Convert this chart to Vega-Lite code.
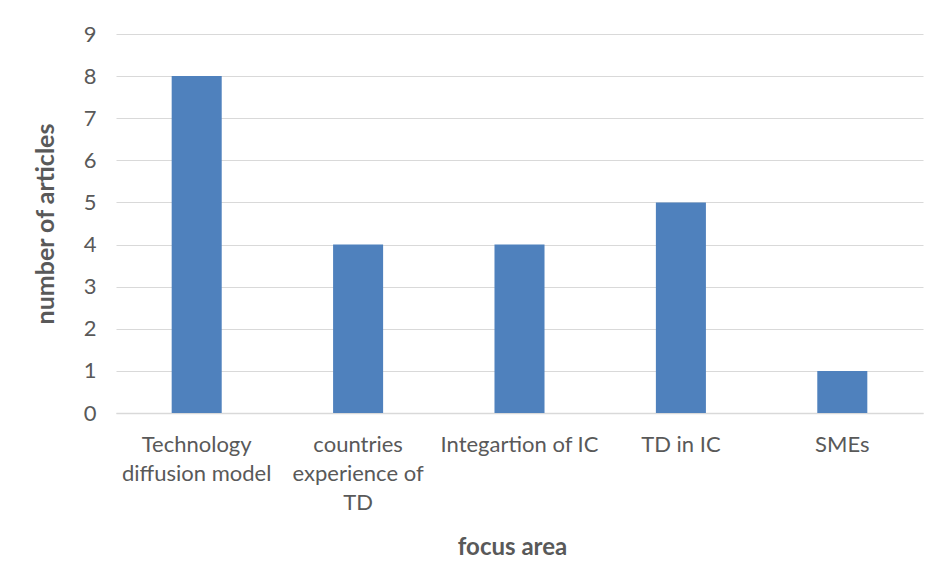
{
  "$schema": "https://vega.github.io/schema/vega-lite/v6.json",
  "width": 807,
  "height": 379,
  "autosize": {"type": "none"},
  "padding": {"left": 116, "top": 34, "right": 16, "bottom": 175},
  "background": "white",
  "config": {
    "font": "Lato",
    "view": {"stroke": null}
  },
  "data": {
    "values": [
      {"focus": "Technology diffusion model", "articles": 8},
      {"focus": "countries experience of TD", "articles": 4},
      {"focus": "Integartion of IC", "articles": 4},
      {"focus": "TD in IC", "articles": 5},
      {"focus": "SMEs", "articles": 1}
    ]
  },
  "mark": {"type": "bar", "color": "#4F81BD"},
  "encoding": {
    "x": {
      "field": "focus",
      "type": "nominal",
      "sort": null,
      "scale": {"paddingInner": 0.69, "paddingOuter": 0.345},
      "axis": {
        "title": "focus area",
        "titleFontSize": 24,
        "titleFontWeight": "bold",
        "titleColor": "#595959",
        "titlePadding": 22,
        "titleX": 396,
        "labelAngle": 0,
        "labelFontSize": 22,
        "labelColor": "#595959",
        "labelPadding": 21,
        "labelLineHeight": 29,
        "labelLimit": 200,
        "labelExpr": "datum.value == 'Technology diffusion model' ? ['Technology', 'diffusion model'] : datum.value == 'countries experience of TD' ? ['countries', 'experience of', 'TD'] : datum.value",
        "ticks": false,
        "domainColor": "#d9d9d9",
        "domainWidth": 1.5,
        "grid": false
      }
    },
    "y": {
      "field": "articles",
      "type": "quantitative",
      "scale": {"domain": [0, 9], "nice": false},
      "axis": {
        "title": "number of articles",
        "titleFontSize": 25,
        "titleFontWeight": "bold",
        "titleColor": "#595959",
        "titlePadding": 25,
        "values": [0, 1, 2, 3, 4, 5, 6, 7, 8, 9],
        "labelFontSize": 22,
        "labelColor": "#595959",
        "labelPadding": 20,
        "ticks": false,
        "domain": false,
        "grid": true,
        "gridColor": "#d9d9d9",
        "gridWidth": 1
      }
    }
  }
}
